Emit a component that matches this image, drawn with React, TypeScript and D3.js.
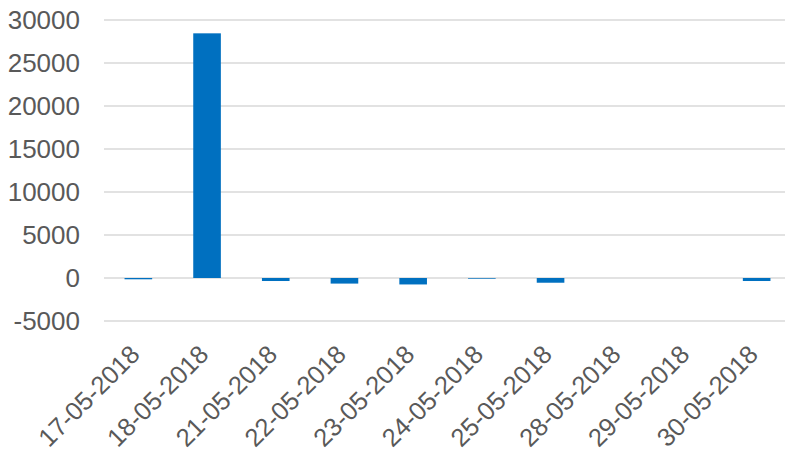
import React from "react";
import * as d3 from "d3";

const dates = [
  "17-05-2018", "18-05-2018", "21-05-2018", "22-05-2018", "23-05-2018",
  "24-05-2018", "25-05-2018", "28-05-2018", "29-05-2018", "30-05-2018",
];
const values = [-150, 28450, -350, -650, -750, -80, -550, 0, 0, -350];
const yTicks = [-5000, 0, 5000, 10000, 15000, 20000, 25000, 30000];

export default function App() {
  const width = 785;
  const height = 453;
  const marginLeft = 104;
  const plotRight = 791; // plot area runs past the right edge of the picture
  const marginTop = 20;
  const plotBottom = 321;

  const x = d3.scaleBand<string>()
    .domain(dates)
    .range([marginLeft, plotRight])
    .paddingInner(0.598)
    .paddingOuter(0.299);

  const y = d3.scaleLinear().domain([-5000, 30000]).range([plotBottom, marginTop]);

  const font = "'Liberation Sans', Arial, sans-serif";

  return (
    <svg width={width} height={height} style={{ position: "absolute", left: 0, top: 0 }}>
      <g>
        {yTicks.map(t => (
          <g key={t}>
            <line x1={marginLeft} x2={width} y1={y(t)} y2={y(t)} stroke="#d9d9d9" strokeWidth={1.5} />
            <text x={80} y={y(t)} dy="0.35em" textAnchor="end" fontFamily={font} fontSize={26} fill="#595959">{t}</text>
          </g>
        ))}
      </g>
      <g>
        {dates.map((d, i) => (
          <rect
            key={d}
            x={x(d)}
            y={y(Math.max(0, values[i]))}
            width={x.bandwidth()}
            height={Math.abs(y(values[i]) - y(0))}
            fill="#0070c0"
          />
        ))}
      </g>
      <g>
        {dates.map(d => {
          const cx = (x(d) as number) + x.bandwidth() / 2;
          return (
            <text key={d} transform={`translate(${cx + 3},${356}) rotate(-45)`} textAnchor="end" fontFamily={font} fontSize={25.5} fill="#595959">{d}</text>
          );
        })}
      </g>
    </svg>
  );
}
